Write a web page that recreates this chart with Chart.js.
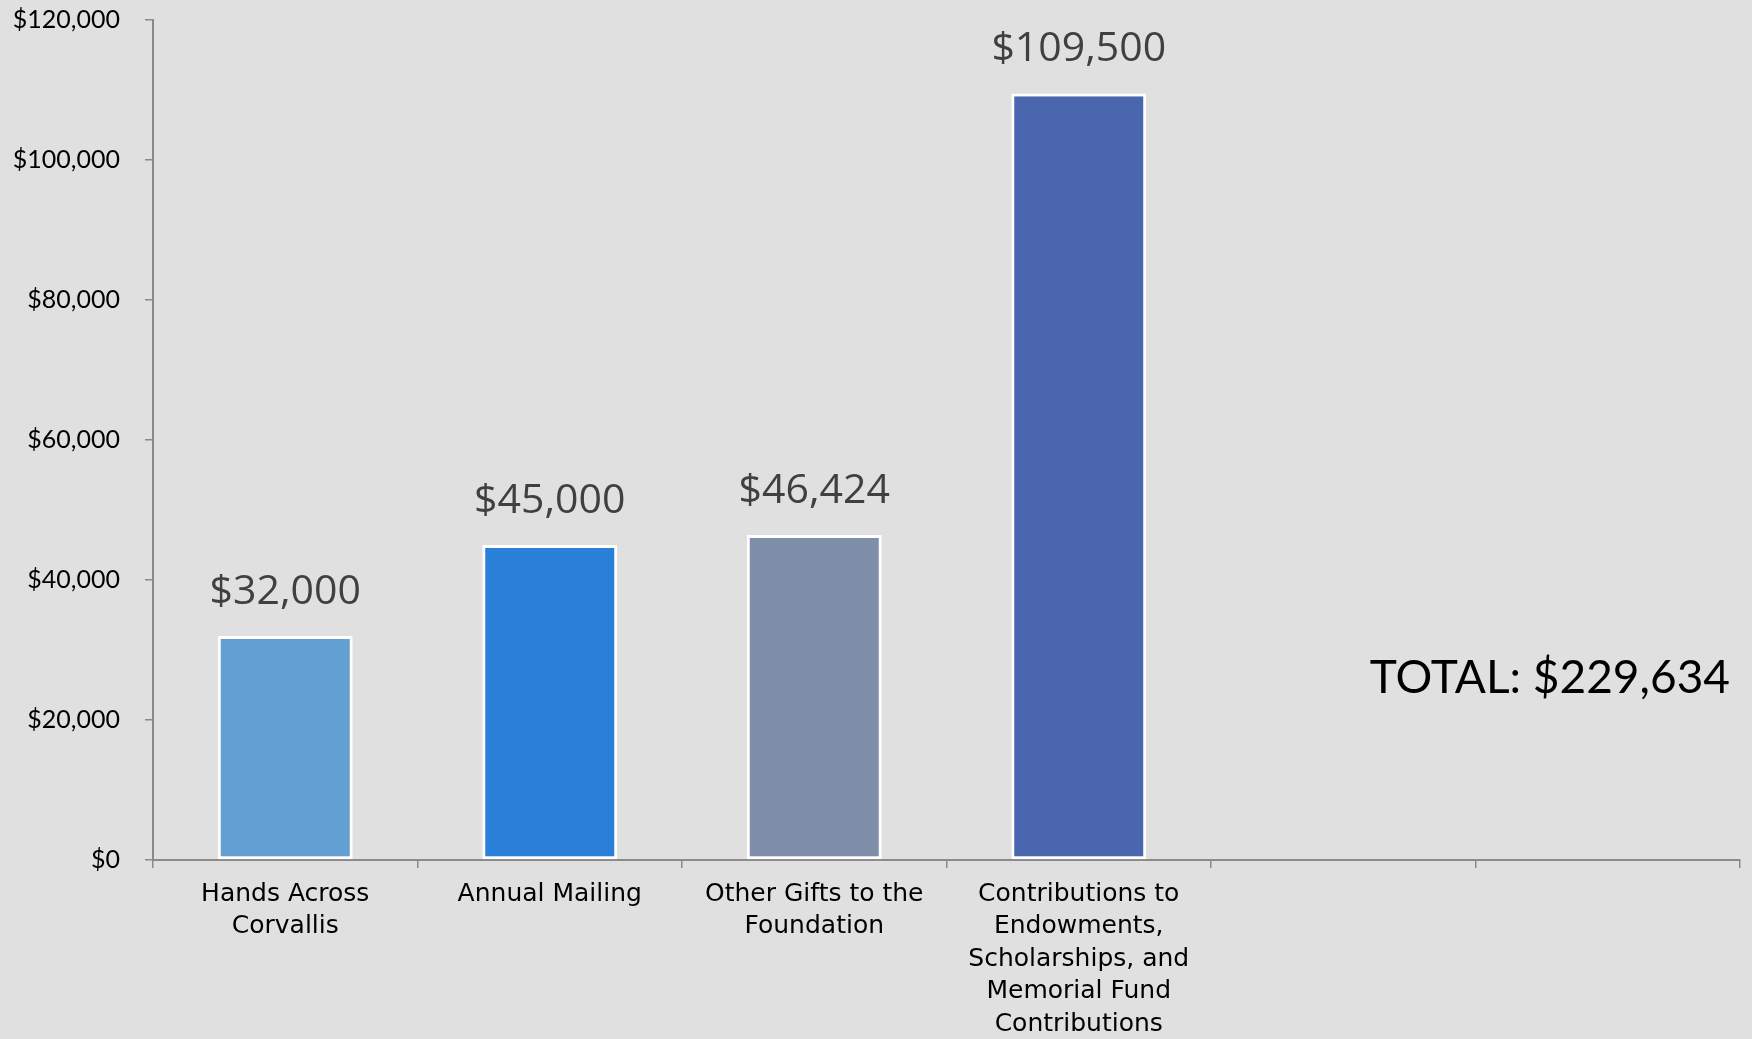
<!DOCTYPE html>
<html>
<head>
<meta charset="utf-8">
<script src="https://cdn.jsdelivr.net/npm/chart.js@4"></script>
<style>
  html, body { margin: 0; padding: 0; background: #e0e0e0; }
  #wrap { width: 1752px; height: 1039px; }
</style>
</head>
<body>
<div id="wrap"><canvas id="giving"></canvas></div>
<script>
// categories (two empty slots on the right, as in the original slide)
var categories = [
  ["Hands Across", "Corvallis"],
  ["Annual Mailing"],
  ["Other Gifts to the", "Foundation"],
  ["Contributions to", "Endowments,", "Scholarships, and", "Memorial Fund", "Contributions"],
  "",
  ""
];
var amounts = [32000, 45000, 46424, 109500, null, null];
var barColors = ["#629fd3", "#2a7fd8", "#7f8fa9", "#4a66ae", "#e0e0e0", "#e0e0e0"];
var yTicks = [0, 20000, 40000, 60000, 80000, 100000, 120000];
var totalLabel = "TOTAL: $229,634";

function money(v) {
  return "$" + Number(v).toLocaleString("en-US");
}

// paints the slide background
var bgPlugin = {
  id: "bg",
  beforeDraw: function (chart) {
    var ctx = chart.ctx;
    ctx.save();
    ctx.fillStyle = "#e0e0e0";
    ctx.fillRect(0, 0, chart.width, chart.height);
    ctx.restore();
  }
};

// value labels above bars + the total text
var labelPlugin = {
  id: "valueLabels",
  afterDatasetsDraw: function (chart) {
    var ctx = chart.ctx;
    var meta = chart.getDatasetMeta(0);
    ctx.save();
    ctx.font = "41px 'Open Sans'";
    ctx.fillStyle = "#404040";
    ctx.textAlign = "center";
    ctx.textBaseline = "middle";
    meta.data.forEach(function (bar, i) {
      if (amounts[i] == null) return;
      ctx.fillText(money(amounts[i]), bar.x, bar.y - 44);
    });

    var area = chart.chartArea;
    ctx.font = "46px Lato";
    ctx.fillStyle = "#000";
    ctx.textAlign = "right";
    ctx.fillText(totalLabel, area.right - 10, chart.scales.y.getPixelForValue(26000));
    ctx.restore();
  }
};

new Chart("giving", {
  type: "bar",
  data: {
    labels: categories,
    datasets: [
      {
        data: amounts,
        backgroundColor: barColors,
        borderColor: "#ffffff",
        borderWidth: 3,
        borderSkipped: false,
        categoryPercentage: 1,
        barPercentage: 0.51
      }
    ]
  },
  options: {
    responsive: true,
    maintainAspectRatio: false,
    animation: false,
    layout: { padding: { top: 0, right: 12, left: 0, bottom: 0 } },
    plugins: {
      legend: { display: false },
      tooltip: { enabled: false }
    },
    scales: {
      x: {
        grid: {
          display: true,
          drawOnChartArea: false,
          color: "#8a8a8a",
          tickLength: 8,
          lineWidth: 1.5
        },
        border: { color: "#8a8a8a", width: 2 },
        ticks: {
          color: "#000",
          font: { family: "'DejaVu Sans'", size: 25, lineHeight: 1.3 },
          padding: 10,
          maxRotation: 0,
          autoSkip: false
        },
        afterFit: function (scale) {
          scale.height = 179;
        }
      },
      y: {
        min: 0,
        max: 120000,
        afterBuildTicks: function (scale) {
          scale.ticks = yTicks.map(function (v) { return { value: v }; });
        },
        grid: {
          display: true,
          drawOnChartArea: false,
          color: "#8a8a8a",
          tickLength: 8,
          lineWidth: 1.5
        },
        border: { color: "#8a8a8a", width: 2 },
        ticks: {
          color: "#000",
          font: { family: "Lato", size: 25 },
          padding: 25,
          callback: function (v) { return money(v); }
        },
        afterFit: function (scale) {
          scale.width = 153;
          scale.paddingTop = 20;
          scale.paddingBottom = 0;
        }
      }
    }
  },
  plugins: [bgPlugin, labelPlugin]
});
</script>
</body>
</html>
